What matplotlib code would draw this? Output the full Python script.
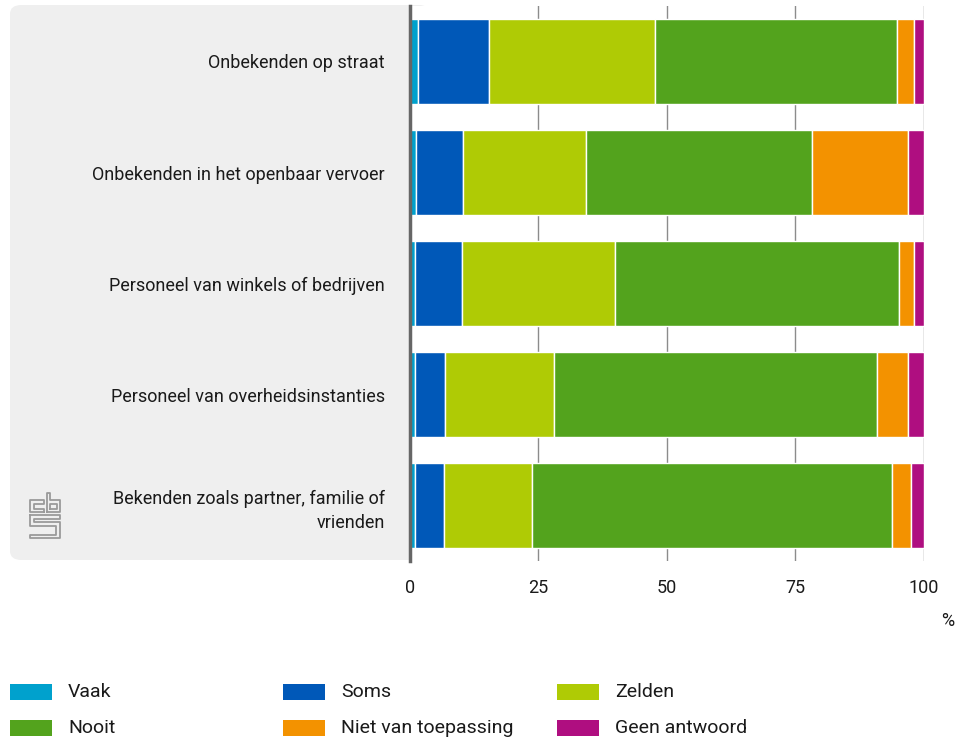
import numpy as np
import matplotlib.pyplot as plt
from matplotlib.patches import FancyBboxPatch, Rectangle

plt.rcParams['font.family'] = ['Roboto', 'DejaVu Sans']

categories = ['Onbekenden op straat',
              'Onbekenden in het openbaar vervoer',
              'Personeel van winkels of bedrijven',
              'Personeel van overheidsinstanties',
              'Bekenden zoals partner, familie of\nvrienden']
series = ['Vaak', 'Soms', 'Zelden', 'Nooit', 'Niet van toepassing', 'Geen antwoord']
vaak = [1.5, 1.2, 0.9, 0.9, 0.9]
soms = [13.8, 9.2, 9.2, 6.0, 5.7]
zelden = [32.5, 23.9, 29.8, 21.2, 17.2]
nooit = [47.0, 43.9, 55.3, 62.9, 70.1]
niet = [3.3, 18.7, 2.9, 5.9, 3.7]
geen = [1.9, 3.1, 1.9, 3.1, 2.4]
xticks = [0, 25, 50, 75, 100]

colors = ['#00a1cd', '#0058b8', '#afcb05', '#53a31d', '#f39200', '#af0e80']
values = [vaak, soms, zelden, nooit, niet, geen]

W, H = 960, 742
fig = plt.figure(figsize=(9.6, 7.42), dpi=100)

# grey panel behind the category labels
panel = FancyBboxPatch((10 / W, 1 - 560 / H), 420 / W, 555 / H,
                       boxstyle='round,pad=0,rounding_size=0.012',
                       transform=fig.transFigure, facecolor='#efefef',
                       edgecolor='none', zorder=-5)
fig.patches.append(panel)

ax = fig.add_axes([410 / W, 1 - 561 / H, 513.5 / W, 555 / H])
ax.set_facecolor('white')
y = np.arange(len(categories))
left = np.zeros(len(categories))
for vals, col, name in zip(values, colors, series):
    ax.barh(y, vals, left=left, height=0.76, color=col, edgecolor='white',
            linewidth=1, label=name, zorder=3)
    left += np.array(vals)

ax.set_xlim(0, 100)
ax.set_ylim(len(categories) - 0.5, -0.5)
ax.set_yticks(y)
ax.set_yticklabels(categories, fontsize=13, color='#1a1a1a', ha='right',
                   linespacing=1.45)
ax.set_xticks(xticks)
ax.set_xticklabels([str(t) for t in xticks], fontsize=13, color='#1a1a1a')
ax.tick_params(axis='y', length=0, pad=18)
ax.tick_params(axis='x', length=0, pad=13)
ax.grid(axis='x', color='#8c8c8c', linewidth=1, zorder=1)
for s in ['top', 'right', 'bottom']:
    ax.spines[s].set_visible(False)
ax.spines['left'].set_color('#666666')
ax.spines['left'].set_linewidth(2.5)
ax.spines['left'].set_zorder(4)

fig.text(948 / W, 1 - 621 / H, '%', fontsize=13, color='#1a1a1a',
         ha='center', va='center')

# legend
col_x = [10, 283, 557]
row_y = [692, 728]
for i, (name, col) in enumerate(zip(series, colors)):
    cx = col_x[i % 3]
    cy = row_y[i // 3]
    fig.patches.append(Rectangle((cx / W, 1 - (cy + 8) / H), 42 / W, 16 / H,
                                 transform=fig.transFigure, facecolor=col,
                                 edgecolor='none'))
    fig.text((cx + 58) / W, 1 - cy / H, name, fontsize=14, color='#1a1a1a',
             ha='left', va='center')

# cbs logo (outline)
lax = fig.add_axes([29 / W, 1 - 539 / H, 32 / W, 47 / H])
lax.set_xlim(0, 10)
lax.set_ylim(0, 15)
lax.axis('off')
lg = dict(color='#9a9a9a', linewidth=1.3)
# c
lax.plot([4.8, 0.3, 0.3, 4.8, 4.8, 1.6, 1.6, 4.8, 4.8],
         [8.5, 8.5, 12.3, 12.3, 11.2, 11.2, 9.6, 9.6, 8.5], **lg)
# b
lax.plot([5.5, 5.5, 6.6, 6.6, 9.7, 9.7, 5.5],
         [8.5, 14.7, 14.7, 12.3, 12.3, 8.5, 8.5], **lg)
lax.plot([6.6, 6.6, 8.6, 8.6, 6.6], [9.6, 11.2, 11.2, 9.6, 9.6], **lg)
# s
lax.plot([0.3, 9.7, 9.7, 1.6, 1.6, 9.7, 9.7, 0.3, 0.3, 8.4, 8.4, 0.3, 0.3],
         [7.6, 7.6, 6.5, 6.5, 5.3, 5.3, 0.3, 0.3, 1.4, 1.4, 4.2, 4.2, 7.6], **lg)

fig.savefig('out.png', dpi=100)
